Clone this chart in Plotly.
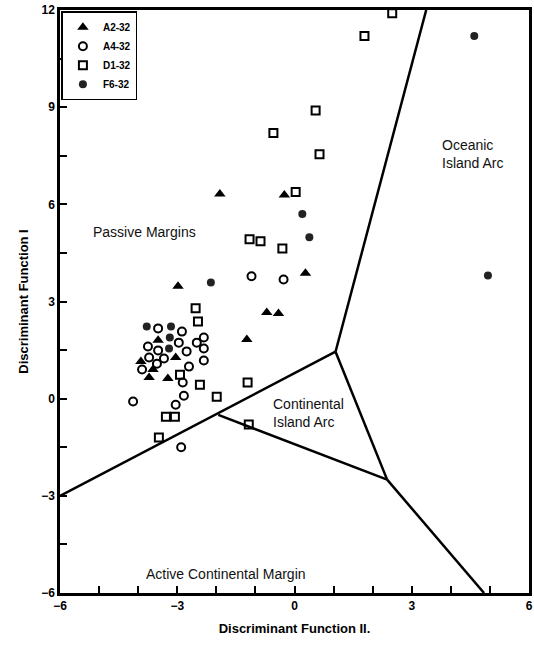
import plotly.graph_objects as go

# ---- data ----
a2_x = [-1.91, -0.26, 0.28, -0.71, -0.41, -2.98, -3.49, -3.04, -3.93, -3.62, -3.72, -3.24, -1.22]
a2_y = [6.32, 6.29, 3.87, 2.66, 2.63, 3.47, 1.80, 1.27, 1.15, 0.90, 0.65, 0.62, 1.83]

a4_x = [-1.10, -0.28, -3.49, -2.88, -2.96, -3.75, -3.49, -2.50, -2.32, -2.32, -2.76, -3.34,
        -3.72, -3.90, -3.52, -2.32, -2.70, -2.86, -4.13, -2.83, -3.04, -2.90]
a4_y = [3.78, 3.68, 2.17, 2.07, 1.73, 1.61, 1.49, 1.73, 1.89, 1.55, 1.46, 1.24,
        1.27, 0.90, 1.08, 1.18, 0.99, 0.50, -0.09, 0.09, -0.19, -1.50]

d1_x = [2.50, 1.79, 0.54, -0.54, 0.64, 0.03, -1.15, -0.87, -0.31, -2.53, -2.47, -2.93,
        -2.42, -1.99, -3.29, -3.06, -1.20, -1.17, -3.47]
d1_y = [11.9, 11.2, 8.9, 8.2, 7.55, 6.38, 4.92, 4.86, 4.64, 2.79, 2.38, 0.74,
        0.43, 0.06, -0.56, -0.56, 0.50, -0.80, -1.20]

f6_x = [4.60, 4.95, 0.20, 0.38, -2.14, -3.78, -3.16, -3.19, -3.21]
f6_y = [11.2, 3.80, 5.70, 4.98, 3.59, 2.23, 2.23, 1.89, 1.55]

# field boundaries (segments)
bound_segments = [
    ([-6.0, 1.05], [-3.0, 1.45]),
    ([1.05, 3.37], [1.45, 12.0]),
    ([1.05, 2.37], [1.45, -2.5]),
    ([-1.95, 2.37], [-0.5, -2.5]),
    ([2.37, 4.85], [-2.5, -6.0]),
]

field_labels = [
    (-3.85, 5.15, "Passive Margins"),
    (4.55, 7.55, "Oceanic<br>Island Arc"),
    (0.35, -0.45, "Continental<br>Island Arc"),
    (-1.75, -5.42, "Active Continental Margin"),
]

x_ticks = [-6, -3, 0, 3, 6]
y_ticks = [-6, -3, 0, 3, 6, 9, 12]

fig = go.Figure()

for bx, by in bound_segments:
    fig.add_trace(go.Scatter(x=bx, y=by, mode="lines", line=dict(color="black", width=2.5),
                             showlegend=False, hoverinfo="skip"))

fig.add_trace(go.Scatter(x=a2_x, y=a2_y, mode="markers", name="A2-32",
                         marker=dict(symbol="triangle-up", size=10, color="black")))
fig.add_trace(go.Scatter(x=a4_x, y=a4_y, mode="markers", name="A4-32",
                         marker=dict(symbol="circle-open", size=8, color="black", line=dict(width=2))))
fig.add_trace(go.Scatter(x=d1_x, y=d1_y, mode="markers", name="D1-32",
                         marker=dict(symbol="square-open", size=8, color="black", line=dict(width=2))))
fig.add_trace(go.Scatter(x=f6_x, y=f6_y, mode="markers", name="F6-32",
                         marker=dict(symbol="circle", size=8, color="#222")))

for lx, ly, txt in field_labels:
    fig.add_annotation(x=lx, y=ly, text=txt, showarrow=False, align="left",
                       font=dict(family="Liberation Sans, Arial", size=14, color="#111"))

fig.update_layout(
    width=534, height=650,
    margin=dict(l=60, r=5, t=10, b=57),
    paper_bgcolor="white", plot_bgcolor="white",
    font=dict(family="Liberation Sans, Arial", color="black"),
    legend=dict(x=0.003, y=0.998, xanchor="left", yanchor="top",
                bordercolor="black", borderwidth=1.5, bgcolor="white",
                font=dict(size=10, weight="bold"), itemwidth=30, tracegroupgap=0),
)

fig.update_xaxes(range=[-6, 6], showgrid=False, zeroline=False, automargin=False,
                 showline=True, linecolor="black", linewidth=2.5, mirror=True,
                 tickvals=x_ticks, ticktext=[str(v).replace("-", "\u2212") for v in x_ticks],
                 ticks="inside", ticklen=7, tickwidth=2, tickcolor="black",
                 minor=dict(dtick=1, ticks="inside", ticklen=7, tickwidth=2, tickcolor="black"),
                 tickfont=dict(size=12, family="Liberation Sans", weight="bold"),
                 title=dict(text="Discriminant Function II.", standoff=12,
                            font=dict(size=13, weight="bold")))
fig.update_yaxes(range=[-6, 12], showgrid=False, zeroline=False, automargin=False,
                 showline=True, linecolor="black", linewidth=2.5, mirror=True,
                 tickvals=y_ticks, ticktext=[str(v).replace("-", "\u2212") for v in y_ticks],
                 ticks="inside", ticklen=7, tickwidth=2, tickcolor="black",
                 minor=dict(dtick=1.5, ticks="inside", ticklen=7, tickwidth=2, tickcolor="black"),
                 tickfont=dict(size=12, family="Liberation Sans", weight="bold"),
                 title=dict(text="Discriminant Function I", standoff=10,
                            font=dict(size=13, weight="bold")))

fig.write_html("out.html", config={"displayModeBar": False},
               post_script="document.body.style.margin='0';")
